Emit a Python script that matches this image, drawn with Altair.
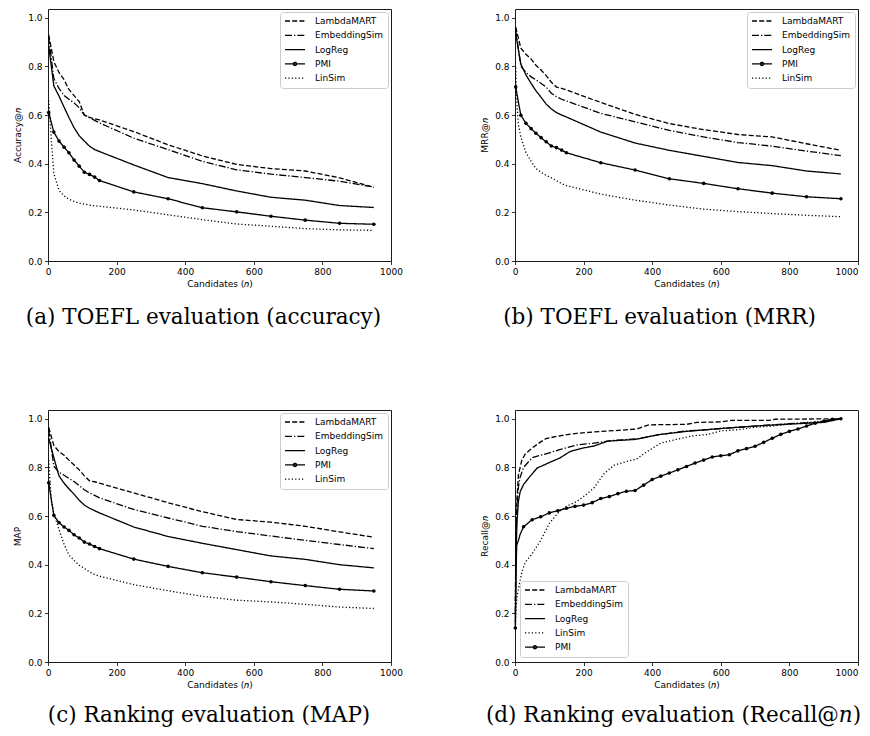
import altair as alt
import pandas as pd

# ---------------- data ----------------
X_MAIN = [2, 17, 32, 47, 61, 76, 91, 106, 121, 136, 150, 250, 350, 450, 550, 650, 750, 850, 950]
X_LIN = [2, 6, 10, 17, 32, 47, 61, 76, 91, 106, 121, 136, 150, 250, 350, 450, 550, 650, 750, 850, 950]

# (a) TOEFL accuracy@n
ACC_LAMBDAMART = [0.93, 0.82, 0.775, 0.745, 0.705, 0.68, 0.655, 0.60, 0.59, 0.585, 0.58, 0.532, 0.478, 0.432, 0.397, 0.38, 0.37, 0.342, 0.303]
ACC_EMBEDDINGSIM = [0.92, 0.75, 0.71, 0.68, 0.665, 0.65, 0.63, 0.60, 0.59, 0.578, 0.568, 0.505, 0.458, 0.41, 0.375, 0.357, 0.343, 0.328, 0.304]
ACC_LOGREG = [0.885, 0.72, 0.678, 0.632, 0.59, 0.548, 0.515, 0.493, 0.472, 0.458, 0.45, 0.395, 0.343, 0.318, 0.288, 0.262, 0.25, 0.228, 0.22]
ACC_PMI = [0.61, 0.53, 0.493, 0.468, 0.445, 0.415, 0.39, 0.365, 0.356, 0.345, 0.331, 0.284, 0.256, 0.219, 0.202, 0.184, 0.168, 0.155, 0.151]
ACC_LINSIM = [0.66, 0.58, 0.49, 0.36, 0.29, 0.268, 0.254, 0.245, 0.238, 0.234, 0.23, 0.227, 0.225, 0.21, 0.19, 0.17, 0.152, 0.143, 0.133, 0.128, 0.126]

# (b) TOEFL MRR@n
MRR_LAMBDAMART = [0.962, 0.875, 0.85, 0.83, 0.805, 0.785, 0.762, 0.735, 0.715, 0.71, 0.703, 0.652, 0.603, 0.565, 0.54, 0.52, 0.51, 0.482, 0.455]
MRR_EMBEDDINGSIM = [0.95, 0.80, 0.775, 0.757, 0.745, 0.73, 0.715, 0.69, 0.675, 0.665, 0.658, 0.607, 0.572, 0.537, 0.51, 0.487, 0.472, 0.452, 0.433]
MRR_LOGREG = [0.935, 0.81, 0.765, 0.73, 0.70, 0.673, 0.645, 0.625, 0.61, 0.60, 0.592, 0.53, 0.485, 0.455, 0.43, 0.405, 0.392, 0.37, 0.358]
MRR_PMI = [0.715, 0.599, 0.566, 0.544, 0.525, 0.507, 0.49, 0.473, 0.466, 0.456, 0.445, 0.404, 0.374, 0.338, 0.319, 0.297, 0.279, 0.264, 0.256]
MRR_LINSIM = [0.795, 0.64, 0.56, 0.51, 0.445, 0.41, 0.38, 0.365, 0.352, 0.342, 0.33, 0.318, 0.31, 0.275, 0.25, 0.23, 0.213, 0.203, 0.195, 0.188, 0.182]

# (c) Ranking MAP
MAP_LAMBDAMART = [0.965, 0.89, 0.865, 0.85, 0.83, 0.81, 0.79, 0.765, 0.745, 0.741, 0.735, 0.695, 0.655, 0.618, 0.586, 0.575, 0.558, 0.535, 0.513]
MAP_EMBEDDINGSIM = [0.955, 0.805, 0.78, 0.768, 0.755, 0.742, 0.725, 0.708, 0.695, 0.685, 0.675, 0.627, 0.592, 0.558, 0.536, 0.518, 0.5, 0.483, 0.466]
MAP_LOGREG = [0.92, 0.84, 0.765, 0.735, 0.712, 0.69, 0.665, 0.645, 0.632, 0.622, 0.613, 0.555, 0.516, 0.488, 0.462, 0.436, 0.422, 0.40, 0.387]
MAP_PMI = [0.737, 0.603, 0.573, 0.555, 0.541, 0.523, 0.51, 0.493, 0.485, 0.475, 0.466, 0.423, 0.393, 0.367, 0.349, 0.33, 0.314, 0.299, 0.292]
MAP_LINSIM = [0.83, 0.74, 0.66, 0.61, 0.545, 0.483, 0.44, 0.418, 0.398, 0.385, 0.37, 0.36, 0.353, 0.318, 0.293, 0.27, 0.254, 0.247, 0.237, 0.226, 0.22]

# (d) Ranking Recall@n
REC_LAMBDAMART_X = [1, 3, 6, 10, 15, 20, 30, 50, 75, 90, 130, 180, 250, 300, 355, 390, 500, 530, 600, 630, 740, 760, 950]
REC_LAMBDAMART = [0.25, 0.55, 0.68, 0.77, 0.80, 0.83, 0.855, 0.88, 0.905, 0.918, 0.93, 0.94, 0.948, 0.952, 0.958, 0.975, 0.977, 0.985, 0.987, 0.993, 0.993, 0.998, 1.0]
REC_EMBEDDINGSIM_X = [1, 3, 6, 10, 15, 25, 50, 80, 100, 130, 180, 230, 280, 360, 420, 500, 560, 600, 700, 800, 880, 950]
REC_EMBEDDINGSIM = [0.2, 0.5, 0.64, 0.72, 0.76, 0.80, 0.84, 0.852, 0.86, 0.873, 0.892, 0.90, 0.91, 0.918, 0.935, 0.95, 0.955, 0.96, 0.97, 0.98, 0.985, 1.0]
REC_LOGREG_X = [1, 3, 6, 10, 15, 25, 45, 65, 85, 100, 130, 160, 200, 230, 270, 350, 420, 500, 600, 700, 800, 900, 950]
REC_LOGREG = [0.16, 0.45, 0.58, 0.66, 0.70, 0.73, 0.765, 0.798, 0.81, 0.82, 0.838, 0.865, 0.88, 0.888, 0.908, 0.915, 0.935, 0.948, 0.96, 0.97, 0.978, 0.985, 1.0]
REC_LINSIM_X = [1, 3, 6, 10, 20, 30, 50, 75, 100, 130, 150, 180, 200, 230, 260, 290, 330, 355, 385, 425, 470, 520, 560, 600, 650, 700, 750, 800, 850, 900, 950]
REC_LINSIM = [0.14, 0.22, 0.27, 0.30, 0.37, 0.41, 0.445, 0.50, 0.57, 0.62, 0.64, 0.66, 0.68, 0.715, 0.775, 0.81, 0.826, 0.835, 0.865, 0.90, 0.915, 0.93, 0.935, 0.95, 0.955, 0.965, 0.97, 0.978, 0.985, 0.99, 1.0]
REC_PMI_X = [1, 3, 5, 10, 15, 25, 50, 75, 100, 125, 150, 175, 200, 225, 250, 275, 300, 325, 350, 375, 400, 425, 450, 475, 500,
             525, 550, 575, 600, 625, 650, 675, 700, 725, 750, 775, 800, 825, 850, 875, 900, 925, 950]
REC_PMI = [0.14, 0.38, 0.48, 0.50, 0.525, 0.556, 0.585, 0.597, 0.613, 0.622, 0.632, 0.64, 0.645, 0.655, 0.672, 0.68, 0.692, 0.702, 0.705, 0.727, 0.75, 0.764, 0.777, 0.79, 0.804,
           0.818, 0.83, 0.843, 0.848, 0.852, 0.868, 0.877, 0.887, 0.903, 0.92, 0.936, 0.948, 0.958, 0.97, 0.982, 0.99, 0.998, 1.0]
REC_PMI_MARKED = [1, 25, 50, 75, 100, 125, 150, 175, 200, 225, 250, 275, 300, 325, 350, 375, 400, 425, 450, 475, 500,
                  525, 550, 575, 600, 625, 650, 675, 700, 725, 750, 775, 800, 825, 850, 875, 900, 925, 950]

ORDER_TOP = ["LambdaMART", "EmbeddingSim", "LogReg", "PMI", "LinSim"]
ORDER_REC = ["LambdaMART", "EmbeddingSim", "LogReg", "LinSim", "PMI"]

# ---------------- styles ----------------
DASH = {
    "LambdaMART": [5, 2.2],
    "EmbeddingSim": [7, 2, 1.3, 2],
    "LogReg": [1, 0],
    "PMI": [1, 0],
    "LinSim": [1.2, 2.2],
}
LINE_PATH = "M-1,0L4,0"
DOT_PATH = "M-1,0L4,0M1.9,0A0.4,0.4,0,1,1,1.1,0A0.4,0.4,0,1,1,1.9,0Z"


def build_frame(entries):
    rows = []
    for name, xs, ys, marked in entries:
        for xv, yv in zip(xs, ys):
            rows.append({"x": xv, "y": yv, "series": name,
                         "marker": bool(marked is not None and xv in marked)})
    return pd.DataFrame(rows)


def panel(df, order, ytitle, caption, legend_orient, legend_offset, dx, cap_offset, right_col):
    xaxis = dict(values=[0, 200, 400, 600, 800, 1000], format="d", title="Candidates (𝑛)")
    if right_col:
        # keep the last tick label inside the page
        xaxis["labelAlign"] = {"condition": {"test": "datum.value >= 1000", "value": "right"}, "value": "center"}
    x = alt.X("x:Q", scale=alt.Scale(domain=[0, 1000], nice=False), axis=alt.Axis(**xaxis))
    y = alt.Y("y:Q", scale=alt.Scale(domain=[0, 1.036], nice=False, zero=False),
              axis=alt.Axis(values=[0, 0.2, 0.4, 0.6, 0.8, 1.0], format=".1f", title=ytitle))
    leg = dict(title=None, orient=legend_orient, offset=legend_offset, padding=4,
               symbolSize=64, symbolStrokeWidth=1.3, symbolStrokeColor="black",
               symbolFillColor="black", symbolOpacity=1,
               labelFont="DejaVu Sans", labelFontSize=9, labelColor="black",
               labelOffset=21, rowPadding=4.3,
               strokeColor="#cccccc", fillColor="white", cornerRadius=3)
    lines = alt.Chart(df).mark_line(color="black", strokeWidth=1.3).encode(
        x=x, y=y,
        strokeDash=alt.StrokeDash("series:N",
                                  scale=alt.Scale(domain=order, range=[DASH[s] for s in order]),
                                  legend=alt.Legend(**leg)),
    )
    pts = alt.Chart(df).transform_filter("datum.marker").mark_point(
        filled=True, color="black", size=13, opacity=1, shape="circle").encode(x=x, y=y)
    key = alt.Chart(df).transform_filter("false").mark_point(color="black").encode(
        shape=alt.Shape("series:N",
                        scale=alt.Scale(domain=order,
                                        range=[DOT_PATH if s == "PMI" else LINE_PATH for s in order]),
                        legend=alt.Legend(**leg)),
    )
    return alt.layer(lines, pts, key).properties(
        width=343, height=252,
        title=alt.TitleParams(text=caption, orient="bottom", anchor="middle", frame="group",
                              font="DejaVu Serif", fontSize=21.5, fontWeight="normal",
                              color="black", offset=cap_offset, dx=dx),
    )


df_a = build_frame([
    ("LambdaMART", X_MAIN, ACC_LAMBDAMART, None),
    ("EmbeddingSim", X_MAIN, ACC_EMBEDDINGSIM, None),
    ("LogReg", X_MAIN, ACC_LOGREG, None),
    ("PMI", X_MAIN, ACC_PMI, X_MAIN),
    ("LinSim", X_LIN, ACC_LINSIM, None),
])
df_b = build_frame([
    ("LambdaMART", X_MAIN, MRR_LAMBDAMART, None),
    ("EmbeddingSim", X_MAIN, MRR_EMBEDDINGSIM, None),
    ("LogReg", X_MAIN, MRR_LOGREG, None),
    ("PMI", X_MAIN, MRR_PMI, X_MAIN),
    ("LinSim", X_LIN, MRR_LINSIM, None),
])
df_c = build_frame([
    ("LambdaMART", X_MAIN, MAP_LAMBDAMART, None),
    ("EmbeddingSim", X_MAIN, MAP_EMBEDDINGSIM, None),
    ("LogReg", X_MAIN, MAP_LOGREG, None),
    ("PMI", X_MAIN, MAP_PMI, X_MAIN),
    ("LinSim", X_LIN, MAP_LINSIM, None),
])
df_d = build_frame([
    ("LambdaMART", REC_LAMBDAMART_X, REC_LAMBDAMART, None),
    ("EmbeddingSim", REC_EMBEDDINGSIM_X, REC_EMBEDDINGSIM, None),
    ("LogReg", REC_LOGREG_X, REC_LOGREG, None),
    ("LinSim", REC_LINSIM_X, REC_LINSIM, None),
    ("PMI", REC_PMI_X, REC_PMI, REC_PMI_MARKED),
])

pa = panel(df_a, ORDER_TOP, "Accuracy@𝑛", "(a) TOEFL evaluation (accuracy)", "top-right", 3, -16, 19, False)
pb = panel(df_b, ORDER_TOP, "MRR@𝑛", "(b) TOEFL evaluation (MRR)", "top-right", 3, -27, 19, True)
pc = panel(df_c, ORDER_TOP, "MAP", "(c) Ranking evaluation (MAP)", "top-right", 3, -10.5, 16, False)
pd_ = panel(df_d, ORDER_REC, "Recall@𝑛", "(d) Ranking evaluation (Recall@𝑛)", "bottom-left", 5, -13, 16, True)

chart = alt.concat(pa, pb, pc, pd_, columns=2, spacing={"row": 149, "column": 124}, bounds="flush").resolve_scale(
    strokeDash="independent", shape="independent"
).resolve_legend(
    strokeDash="independent", shape="independent"
).properties(
    padding={"left": 5, "top": 0, "right": 0, "bottom": 0}
).configure(
    font="DejaVu Sans"
).configure_view(
    stroke="#1a1a1a", strokeWidth=1
).configure_axis(
    grid=False, domain=False, tickColor="black", tickSize=3.5, tickWidth=0.8,
    labelColor="black", labelFont="DejaVu Sans", labelFontSize=9, labelPadding=2.5,
    labelFlush=False, titleFont="DejaVu Sans", titleFontSize=9, titleFontWeight="normal",
    titleColor="black"
).configure_axisY(titlePadding=5).configure_axisX(titlePadding=3)

chart.save("out.html", embed_options={"renderer": "svg", "actions": False})
